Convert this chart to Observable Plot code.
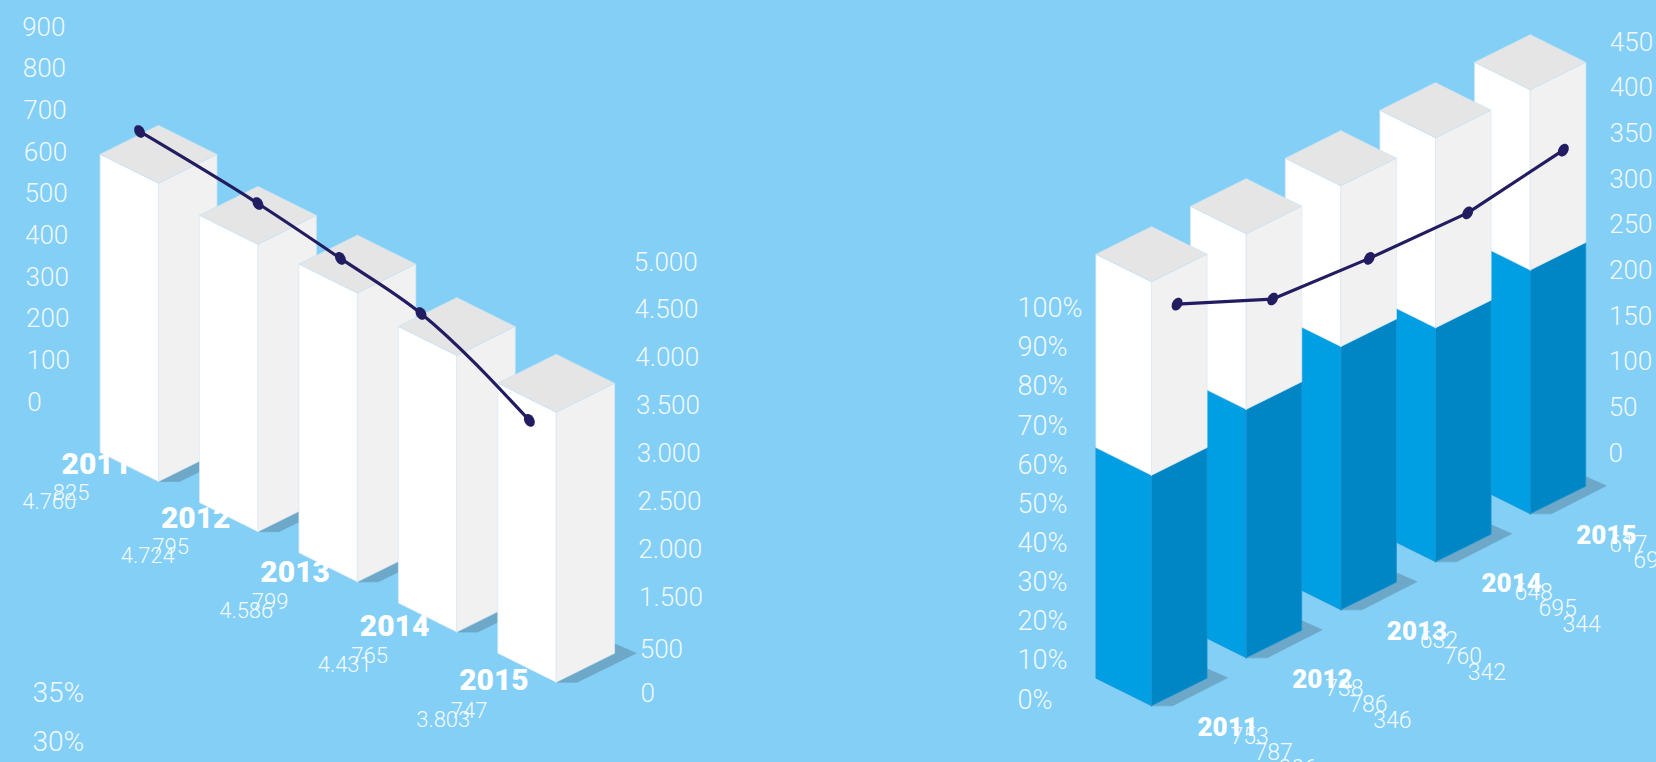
<!DOCTYPE html>
<html><head><meta charset="utf-8">
<style>html,body{margin:0;padding:0;background:#83cff6;overflow:hidden}svg{display:block}</style>
<script src="https://cdn.jsdelivr.net/npm/d3@7"></script>
<script src="https://cdn.jsdelivr.net/npm/@observablehq/plot@0.6"></script>
</head><body><div id="chart"></div>
<script>
const years = [2011, 2012, 2013, 2014, 2015];

// left chart
const leftBars = [825, 795, 799, 765, 747];
const leftSecond = [4760, 4724, 4586, 4431, 3803];
const leftAxisA = [0, 100, 200, 300, 400, 500, 600, 700, 800, 900];
const leftAxisB = [0, 500, 1500, 2000, 2500, 3000, 3500, 4000, 4500, 5000];
const leftLineYear = [2010.81, 2012, 2012.83, 2013.64, 2014.73];
const leftLineRead = [4978, 4798, 4604, 4393, 3629];
const pctLowerAxis = [35, 30, 25];

// right chart
const rightShare = [54.4, 58.6, 62.1, 55.2, 57.5];
const rightA = [753, 738, 632, 648, 617];
const rightB = [787, 786, 760, 695, 699];
const rightC = [306, 346, 342, 344, 348];
const rightAxisPct = [0, 10, 20, 30, 40, 50, 60, 70, 80, 90, 100];
const rightAxisN = [0, 50, 100, 150, 200, 250, 300, 350, 400, 450];
const rightLineYear = [2011.27, 2012.28, 2013.30, 2014.34, 2015.35];
const rightLineRead = [424.6, 377.2, 368.1, 363.3, 378.9];

const thousands = v => String(v).replace(/\B(?=(\d{3})+$)/, ".");

// isometric placement of the two charts (year → floor position of a bar's front corner)
const leftFloorX = d3.scaleLinear([2011, 2015], [158, 555.7]);
const leftFloorY = d3.scaleLinear([2011, 2015], [481, 681.7]);
const rightFloorX = d3.scaleLinear([2011, 2015], [1151, 1529.7]);
const rightFloorY = d3.scaleLinear([2011, 2015], [705.3, 513.3]);
const leftH = d3.scaleLinear([0, 825], [0, 298.2]);
const leftLineH = d3.scaleLinear([0, 5000], [0, 342]);
const rightH = d3.scaleLinear([0, 100], [0, 424]);
const rightLineH = d3.scaleLinear([0, 450], [0, 412]);
const L = {hw: 58.4, hd: 29, sh: [[0,0],[21,0],[80,-29],[58.4,-38.5]]};
const R = {hw: 55.6, hd: 27.6, sh: [[0,0],[21,0],[76,-28],[55.6,-37]]};

const C = {
  white: "#ffffff", side: "#f1f1f1", top: "#e5e5e5",
  blue: "#009fe3", blueSide: "#0086c4", shadow: "#6da8c8",
  edgeW: "#dbe9f3", edgeT: "#c4e2f3", edgeB: "#1b95d6", line: "#221c60"
};

const polys = [];
function poly(id, pts, fill, edge) {
  [...pts, pts[0]].forEach(([x, y]) => polys.push({id, x, y, fill, edge}));
}
function bar(id, fx, fy, g, segs) {
  poly(id + "s", g.sh.map(([dx, dy]) => [fx + dx, fy + dy]), C.shadow, C.shadow);
  let h0 = 0;
  segs.forEach(([h, cl, cr, e], k) => {
    poly(id + "l" + k, [[fx, fy - h0], [fx - g.hw, fy - g.hd - h0], [fx - g.hw, fy - g.hd - h], [fx, fy - h]], cl, e);
    poly(id + "r" + k, [[fx, fy - h0], [fx + g.hw, fy - g.hd - h0], [fx + g.hw, fy - g.hd - h], [fx, fy - h]], cr, e);
    h0 = h;
  });
  poly(id + "t", [[fx, fy - h0], [fx - g.hw, fy - g.hd - h0], [fx, fy - 2 * g.hd - h0], [fx + g.hw, fy - g.hd - h0]], C.top, C.edgeT);
}
years.forEach((yr, i) => {
  bar("L" + yr, leftFloorX(yr), leftFloorY(yr), L, [[leftH(leftBars[i]), C.white, C.side, C.edgeW]]);
});
years.slice().reverse().forEach(yr => {
  const i = years.indexOf(yr);
  bar("R" + yr, rightFloorX(yr), rightFloorY(yr), R, [
    [rightH(rightShare[i]), C.blue, C.blueSide, C.edgeB],
    [rightH(100), C.white, C.side, C.edgeW]
  ]);
});

const leftLine = leftLineYear.map((t, i) => ({x: leftFloorX(t), y: leftFloorY(t) - leftLineH(leftLineRead[i])}));
const rightLine = rightLineYear.map((t, i) => ({x: rightFloorX(t), y: rightFloorY(t) - rightLineH(rightLineRead[i])}));

const blob = angle => ({
  draw(c, size) {
    const r = Math.sqrt(size / Math.PI), a = angle * Math.PI / 180;
    for (let k = 0; k <= 24; k++) {
      const t = k / 24 * 2 * Math.PI, u = r * 0.72 * Math.cos(t), v = r * Math.sin(t);
      const x = u * Math.cos(a) - v * Math.sin(a), y = u * Math.sin(a) + v * Math.cos(a);
      k ? c.lineTo(x, y) : c.moveTo(x, y);
    }
    c.closePath();
  }
});

// text: tables built from the arrays above
const axisLeftA = leftAxisA.map((v, k) => ({t: String(v), x: d3.scaleLinear([0, 900], [26.7, 21.7])(v), y: d3.scaleLinear([0, 900], [410, 35])(v)}));
const axisLeftBPos = d3.scaleLinear([0, 9], [701.7, 270]);
const axisLeftB = leftAxisB.map((v, k) => ({t: thousands(v), x: 640 - k * 0.75, y: k === 1 ? 657 : axisLeftBPos(k)}));
const axisPctLow = pctLowerAxis.map(v => ({t: v + "%", x: 32, y: d3.scaleLinear([35, 25], [701, 800])(v)}));
const axisRightP = rightAxisPct.map(v => ({t: v + "%", x: 1017, y: d3.scaleLinear([0, 100], [708, 316.7])(v)}));
const axisRightN = rightAxisN.map(v => ({t: String(v), x: d3.scaleLinear([0, 450], [1608, 1609.3])(v), y: d3.scaleLinear([0, 450], [461, 50])(v)}));

const leftYearLab = years.map(yr => ({t: String(yr), x: leftFloorX(yr) - 97, y: leftFloorY(yr) - 8 + (yr - 2011) * 4}));
const leftValLab = years.flatMap((yr, i) => [
  {t: String(leftBars[i]), x: 52.3 + (yr - 2011) * 99.5, y: 499 + (yr - 2011) * 54.5},
  {t: thousands(leftSecond[i]), x: 21.7 + (yr - 2011) * 98.5, y: 508 + (yr - 2011) * 54.5}
]);
const rightYearLab = years.map(yr => ({t: String(yr), x: rightFloorX(yr) + 46, y: rightFloorY(yr) + 30}));
const rightValLab = years.flatMap((yr, i) => [rightA, rightB, rightC].map((s, k) => ({
  t: String(s[i]), x: rightFloorX(yr) + 46 + 33 + k * 24, y: rightFloorY(yr) + 30 + 8 + k * 16
})));

const txt = (data, label, fontSize, fontWeight, fill) => Plot.text(data, {
  x: "x", y: "y", text: "t", textAnchor: "start", lineAnchor: "bottom",
  fontSize, fontWeight, fontFamily: "Roboto", fill, ariaLabel: label
});

const plot = Plot.plot({
  width: 1656, height: 762,
  marginTop: 0, marginRight: 0, marginBottom: 0, marginLeft: 0,
  style: {background: "#83cff6", overflow: "hidden"},
  x: {domain: [0, 1656], range: [0, 1656], axis: null},
  y: {domain: [0, 762], range: [0, 762], axis: null},
  color: {type: "identity"},
  marks: [
    Plot.line(polys, {x: "x", y: "y", z: "id", fill: "fill", stroke: "edge", strokeWidth: 0.7, strokeLinejoin: "miter"}),
    Plot.line(leftLine, {x: "x", y: "y", stroke: C.line, strokeWidth: 3.2, curve: "monotone-x"}),
    Plot.dot(leftLine, {x: "x", y: "y", r: 6.8, fill: C.line, stroke: null, symbol: blob(-30)}),
    Plot.line(rightLine, {x: "x", y: "y", stroke: C.line, strokeWidth: 3.2}),
    Plot.dot(rightLine, {x: "x", y: "y", r: 6.8, fill: C.line, stroke: null, symbol: blob(30)}),
    txt(axisLeftA, "wall-down", 26, 300, "#f1f9fe"),
    txt(axisLeftB, "wall-down", 26, 300, "#f1f9fe"),
    txt(axisPctLow, "wall-up", 28, 300, "#f1f9fe"),
    txt(axisRightP, "wall-up", 27, 300, "#f1f9fe"),
    txt(axisRightN, "wall-up", 26, 300, "#f1f9fe"),
    txt(leftYearLab, "floor-left-bold", 30, 900, "#ffffff"),
    txt(leftValLab, "floor-left", 22, 300, "#f4fbff"),
    txt(rightYearLab, "floor-right-bold", 26, 900, "#ffffff"),
    txt(rightValLab, "floor-right", 23, 300, "#f4fbff")
  ]
});

const planes = {
  "wall-down": "matrix(1,0.5,0,1,0,0)",
  "wall-up": "matrix(1,-0.5,0,1,0,0)",
  "floor-left-bold": "matrix(1,0.55,-0.66,0.38,0,0)",
  "floor-left": "matrix(1,0.55,-0.7,0.42,0,0)",
  "floor-right-bold": "matrix(1,-0.52,0.75,0.47,0,0)",
  "floor-right": "matrix(1,-0.5,0.62,0.45,0,0)"
};
Object.entries(planes).forEach(([label, m]) => {
  plot.querySelectorAll(`g[aria-label="${label}"] text`).forEach(t => {
    t.setAttribute("transform", (t.getAttribute("transform") || "") + " " + m);
  });
});
document.getElementById("chart").append(plot);
</script></body></html>
